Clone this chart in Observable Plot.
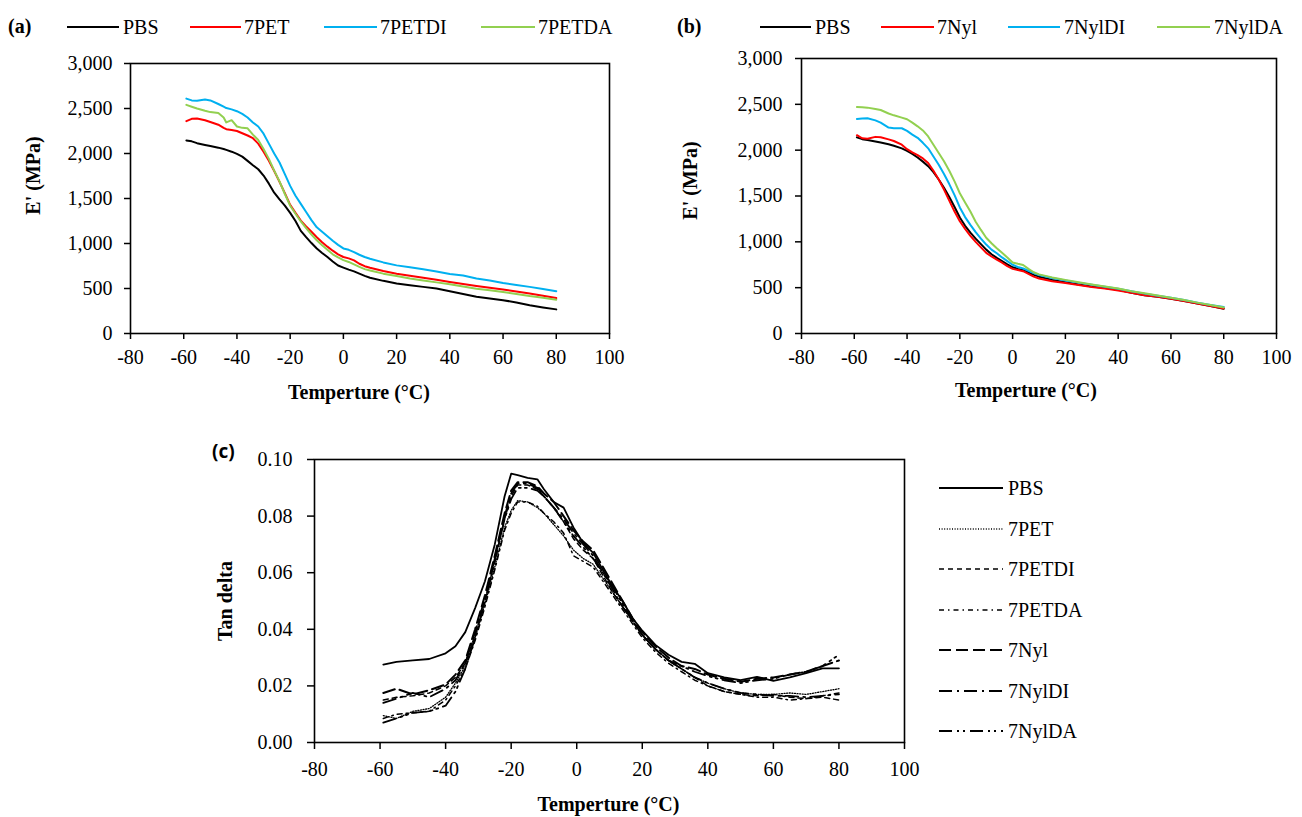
<!DOCTYPE html>
<html>
<head>
<meta charset="utf-8">
<script src="https://cdn.jsdelivr.net/npm/d3@7"></script>
<script src="https://cdn.jsdelivr.net/npm/@observablehq/plot@0.6"></script>
<style>
  html, body { margin: 0; padding: 0; background: #fff; }
  body { width: 1302px; height: 817px; position: relative; overflow: hidden; font-family: 'Liberation Serif', 'Times New Roman', serif; color: #000; }
  .abs { position: absolute; }
  .lbl { position: absolute; font-size: 20px; line-height: 24px; white-space: nowrap; }
  .plt svg g[aria-label*="axis"] path, .plt svg g[aria-label*="axis"] line { stroke-width: 1.5px; }
</style>
</head>
<body>
<div id="pa" class="abs plt" style="left:0px;top:0px;"></div>
<div id="pb" class="abs plt" style="left:650px;top:0px;"></div>
<div id="pc" class="abs plt" style="left:150px;top:440px;"></div>
<div id="legends"></div>
<script>
// ---------- data ----------
const xTicks = [-80, -60, -40, -20, 0, 20, 40, 60, 80, 100];
const eTicks = [0, 500, 1000, 1500, 2000, 2500, 3000];
const tanTicks = [0, 0.02, 0.04, 0.06, 0.08, 0.10];

// Panel (a): storage modulus E' (MPa), PET series
const tA = [-59,-57,-55,-52,-50,-47,-45,-44,-42,-40,-38,-36,-34,-32,-30,-28,-26,-24,-22,-20,-18,-16,-14,-12,-10,-8,-6,-4,-2,0,2,4,6,8,10,15,20,25,30,35,40,45,50,55,60,65,70,75,80];
const pbsA = [2145,2135,2115,2095,2083,2065,2050,2040,2020,1995,1965,1918,1870,1825,1755,1665,1565,1490,1420,1340,1250,1140,1070,1005,945,895,850,800,755,732,710,690,665,640,620,585,555,535,518,500,470,440,408,390,370,345,315,290,268];
const petA = [2360,2385,2390,2370,2350,2320,2285,2270,2262,2250,2225,2200,2170,2110,2020,1920,1805,1685,1560,1430,1340,1255,1190,1130,1070,1015,965,920,880,850,835,812,775,748,730,695,665,642,620,597,572,550,528,508,488,467,445,420,394];
const petdiA = [2610,2590,2585,2600,2590,2550,2520,2505,2490,2470,2440,2400,2345,2300,2220,2110,2000,1900,1770,1640,1530,1440,1350,1260,1180,1130,1080,1030,985,945,930,905,875,850,830,790,757,735,713,690,660,645,612,590,560,540,518,495,470];
const petdaA = [2540,2520,2500,2475,2460,2450,2400,2345,2370,2300,2285,2280,2210,2150,2050,1940,1810,1690,1550,1420,1330,1245,1170,1100,1035,980,930,880,845,815,795,768,740,715,700,665,638,612,590,568,546,522,498,480,461,440,416,396,376];

// Panel (b): storage modulus E' (MPa), Nylon series
const tB = [-59,-57,-55,-52,-50,-47,-45,-42,-40,-38,-36,-34,-32,-30,-28,-26,-24,-22,-20,-18,-16,-14,-12,-10,-8,-6,-4,-2,0,2,4,6,8,10,15,20,25,30,35,40,45,50,55,60,65,70,75,80];
const pbsB = [2140,2120,2110,2095,2083,2065,2048,2020,1993,1960,1920,1875,1825,1760,1680,1590,1490,1380,1265,1175,1100,1035,975,915,865,825,790,755,722,705,690,665,640,620,585,560,535,513,495,477,445,417,400,380,355,326,300,270];
const nylB = [2163,2130,2125,2145,2140,2118,2100,2060,2011,1975,1945,1910,1860,1775,1680,1570,1450,1330,1225,1140,1065,1000,940,880,840,805,772,735,705,692,680,650,620,600,570,550,528,507,490,470,443,417,400,380,355,326,300,272];
const nyldiB = [2341,2345,2348,2325,2300,2246,2240,2239,2210,2170,2135,2080,2020,1930,1840,1740,1630,1510,1375,1270,1185,1105,1035,970,915,875,830,790,750,725,710,685,660,638,605,578,555,532,510,488,462,435,412,390,365,337,312,290];
const nyldaB = [2471,2468,2464,2450,2438,2400,2380,2355,2337,2300,2260,2215,2150,2060,1970,1880,1775,1660,1530,1430,1330,1220,1130,1045,985,930,880,830,775,760,748,705,668,645,612,585,560,535,512,490,462,440,415,391,365,337,310,283];

// Panel (c): tan delta, all series
const tC = [-59,-55,-50,-45,-40,-37,-34,-31,-28,-25,-22,-20,-18,-15,-12,-10,-7,-4,-1,2,5,8,11,14,17,20,24,28,32,36,40,45,50,55,60,65,70,75,80];
const pbsC = [0.0275,0.0285,0.0290,0.0295,0.0315,0.0340,0.0390,0.0475,0.0570,0.0700,0.0870,0.0950,0.0945,0.0935,0.0930,0.0895,0.0850,0.0830,0.0760,0.0705,0.0670,0.0610,0.0550,0.0500,0.0440,0.0395,0.0345,0.0310,0.0285,0.0278,0.0245,0.0230,0.0220,0.0232,0.0218,0.0230,0.0245,0.0262,0.0262];
const petC = [0.0095,0.0085,0.0110,0.0120,0.0160,0.0210,0.0270,0.0370,0.0490,0.0620,0.0760,0.0820,0.0855,0.0850,0.0830,0.0810,0.0770,0.0730,0.0680,0.0650,0.0630,0.0580,0.0530,0.0480,0.0430,0.0380,0.0330,0.0290,0.0260,0.0230,0.0210,0.0190,0.0175,0.0170,0.0170,0.0175,0.0170,0.0180,0.0190];
const petdiC = [0.0150,0.0160,0.0165,0.0175,0.0200,0.0230,0.0280,0.0380,0.0500,0.0640,0.0790,0.0870,0.0910,0.0910,0.0895,0.0870,0.0830,0.0780,0.0720,0.0680,0.0650,0.0590,0.0530,0.0480,0.0430,0.0380,0.0330,0.0290,0.0260,0.0230,0.0200,0.0180,0.0170,0.0165,0.0170,0.0160,0.0155,0.0160,0.0150];
const petdaC = [0.0085,0.0100,0.0105,0.0110,0.0150,0.0200,0.0260,0.0360,0.0480,0.0610,0.0750,0.0810,0.0850,0.0850,0.0835,0.0810,0.0780,0.0740,0.0660,0.0640,0.0620,0.0570,0.0520,0.0470,0.0420,0.0370,0.0320,0.0280,0.0250,0.0220,0.0200,0.0180,0.0170,0.0160,0.0160,0.0150,0.0155,0.0165,0.0175];
const nylC = [0.0175,0.0190,0.0170,0.0185,0.0205,0.0240,0.0290,0.0400,0.0520,0.0660,0.0810,0.0890,0.0920,0.0920,0.0905,0.0880,0.0850,0.0800,0.0750,0.0710,0.0680,0.0620,0.0560,0.0500,0.0440,0.0390,0.0340,0.0300,0.0270,0.0260,0.0240,0.0225,0.0215,0.0225,0.0230,0.0240,0.0250,0.0270,0.0290];
const nyldiC = [0.0140,0.0155,0.0175,0.0160,0.0190,0.0220,0.0280,0.0390,0.0510,0.0650,0.0800,0.0880,0.0915,0.0915,0.0900,0.0870,0.0830,0.0790,0.0740,0.0700,0.0660,0.0600,0.0540,0.0480,0.0430,0.0380,0.0330,0.0290,0.0260,0.0230,0.0210,0.0190,0.0175,0.0170,0.0165,0.0165,0.0160,0.0165,0.0170];
const nyldaC = [0.0070,0.0085,0.0105,0.0110,0.0130,0.0180,0.0260,0.0370,0.0500,0.0640,0.0790,0.0860,0.0900,0.0900,0.0890,0.0870,0.0830,0.0780,0.0730,0.0690,0.0650,0.0600,0.0550,0.0490,0.0430,0.0380,0.0330,0.0290,0.0270,0.0250,0.0235,0.0220,0.0210,0.0220,0.0225,0.0240,0.0250,0.0270,0.0310];

// ---------- styles ----------
const serif = "'Liberation Serif', 'Times New Roman', serif";
const cBlack = "#000000", cRed = "#FF0000", cBlue = "#00B0F0", cGreen = "#92D050";

const seriesA = [
  {name: "PBS", v: pbsA, color: cBlack},
  {name: "7PET", v: petA, color: cRed},
  {name: "7PETDI", v: petdiA, color: cBlue},
  {name: "7PETDA", v: petdaA, color: cGreen}
];
const seriesB = [
  {name: "PBS", v: pbsB, color: cBlack},
  {name: "7Nyl", v: nylB, color: cRed},
  {name: "7NylDI", v: nyldiB, color: cBlue},
  {name: "7NylDA", v: nyldaB, color: cGreen}
];
const seriesC = [
  {name: "PBS", v: pbsC, dash: null, w: 1.8},
  {name: "7PET", v: petC, dash: "1,1.6", w: 1.3},
  {name: "7PETDI", v: petdiC, dash: "5,4", w: 1.5},
  {name: "7PETDA", v: petdaC, dash: "5,4,1.5,4", w: 1.5},
  {name: "7Nyl", v: nylC, dash: "12,5", w: 2},
  {name: "7NylDI", v: nyldiC, dash: "13,5,2,5", w: 1.8},
  {name: "7NylDA", v: nyldaC, dash: "13,5,2,4,2,5", w: 1.8}
];

function rows(t, v) { return t.map((d, i) => ({t: d, v: v[i]})); }

function ePanel(cfg) {
  return Plot.plot({
    width: cfg.width, height: 420,
    marginLeft: cfg.ml, marginRight: cfg.mr, marginTop: cfg.mt, marginBottom: 87,
    style: {fontFamily: serif, fontSize: "20px", color: "#000", background: "transparent", overflow: "visible"},
    x: {domain: [-80, 100], ticks: xTicks, tickFormat: d => String(d), tickSize: 6, tickPadding: 10, label: null},
    y: {domain: [0, 3000], ticks: eTicks, tickFormat: d3.format(","), tickSize: 6, tickPadding: cfg.ytp, label: null},
    marks: [
      Plot.frame({stroke: "#000", strokeWidth: 1.6}),
      ...cfg.series.map(s => Plot.line(rows(cfg.t, s.v), {x: "t", y: "v", stroke: s.color, strokeWidth: 2})),
      Plot.text(["Temperture (°C)"], {frameAnchor: "bottom", dx: cfg.xtdx, dy: cfg.xtdy, textAnchor: "middle", lineAnchor: "middle", fontWeight: "bold", fontSize: 20}),
      Plot.text(["E' (MPa)"], {frameAnchor: "top-left", dx: cfg.ytdx, dy: cfg.ytdy, rotate: -90, textAnchor: "middle", lineAnchor: "middle", fontWeight: "bold", fontSize: 20})
    ]
  });
}

document.getElementById("pa").append(ePanel({
  width: 650, ml: 130, mr: 41, mt: 63, ytp: 12, t: tA, series: seriesA,
  xtdx: -11, xtdy: 59, ytdx: -97, ytdy: 112
}));
document.getElementById("pb").append(ePanel({
  width: 652, ml: 151, mr: 26, mt: 58, ytp: 13, t: tB, series: seriesB,
  xtdx: -13, xtdy: 57, ytdx: -111, ytdy: 122
}));

document.getElementById("pc").append(Plot.plot({
  width: 800, height: 377,
  marginLeft: 164, marginRight: 46, marginTop: 19, marginBottom: 75,
  style: {fontFamily: serif, fontSize: "20px", color: "#000", background: "transparent", overflow: "visible"},
  x: {domain: [-80, 100], ticks: xTicks, tickFormat: d => String(d), tickSize: 7, tickPadding: 12, label: null},
  y: {domain: [0, 0.1], ticks: tanTicks, tickFormat: d3.format(".2f"), tickSize: 7, tickPadding: 15, label: null},
  marks: [
    Plot.frame({stroke: "#000", strokeWidth: 1.6}),
    ...seriesC.map(s => Plot.line(rows(tC, s.v), {x: "t", y: "v", stroke: "#000", strokeWidth: s.w, strokeDasharray: s.dash || undefined})),
    Plot.text(["Temperture (°C)"], {frameAnchor: "bottom", dx: -1, dy: 62, textAnchor: "middle", lineAnchor: "middle", fontWeight: "bold", fontSize: 20}),
    Plot.text(["Tan delta"], {frameAnchor: "left", dx: -89, rotate: -90, textAnchor: "middle", lineAnchor: "middle", fontWeight: "bold", fontSize: 20})
  ]
}));

// ---------- legends & panel labels ----------
const L = document.getElementById("legends");
function addText(txt, x, cy, extra) {
  const d = document.createElement("div");
  d.className = "lbl";
  d.textContent = txt;
  d.style.left = x + "px";
  d.style.top = (cy - 12) + "px";
  if (extra) Object.assign(d.style, extra);
  L.append(d);
}
function addLine(x1, x2, cy, color, width, dash) {
  const ns = "http://www.w3.org/2000/svg";
  const s = document.createElementNS(ns, "svg");
  s.setAttribute("width", x2 - x1 + 2);
  s.setAttribute("height", 10);
  s.style.position = "absolute";
  s.style.left = (x1 - 1) + "px";
  s.style.top = (cy - 5) + "px";
  const ln = document.createElementNS(ns, "line");
  ln.setAttribute("x1", 1); ln.setAttribute("x2", x2 - x1 + 1);
  ln.setAttribute("y1", 5); ln.setAttribute("y2", 5);
  ln.setAttribute("stroke", color);
  ln.setAttribute("stroke-width", width);
  if (dash) ln.setAttribute("stroke-dasharray", dash);
  s.append(ln);
  L.append(s);
}

addText("(a)", 8, 26, {fontWeight: "bold"});
addText("(b)", 677, 26, {fontWeight: "bold"});
addText("(c)", 212, 451, {fontWeight: "bold", fontFamily: "'Open Sans', 'Liberation Sans', sans-serif", fontSize: "19px"});

const legA = [[67, 119, 123], [190, 241, 244], [324, 377, 380], [481, 535, 538]];
seriesA.forEach((s, i) => { addLine(legA[i][0], legA[i][1], 27, s.color, 2); addText(s.name, legA[i][2], 27); });
const legB = [[760, 811, 815], [881, 934, 937], [1008, 1060, 1064], [1157, 1210, 1214]];
seriesB.forEach((s, i) => { addLine(legB[i][0], legB[i][1], 27, s.color, 2); addText(s.name, legB[i][2], 27); });
seriesC.forEach((s, i) => {
  const cy = 488 + i * 40.5;
  addLine(939, 1003, cy, "#000", s.w, s.dash);
  addText(s.name, 1008, cy);
});
</script>
</body>
</html>
